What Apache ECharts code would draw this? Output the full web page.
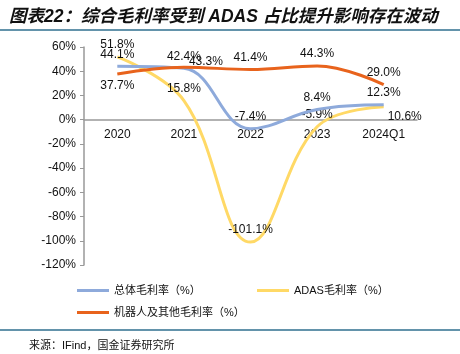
<!DOCTYPE html>
<html>
<head>
<meta charset="utf-8">
<script src="https://cdn.jsdelivr.net/npm/echarts@6/dist/echarts.min.js"></script>
<style>
html,body{margin:0;padding:0;background:#fff;}
#chart{width:460px;height:354px;}
</style>
</head>
<body>
<div id="chart"></div>
<script>
// 数据
var categories = ['2020', '2021', '2022', '2023', '2024Q1'];
var totalMargin = [44.1, 42.4, -7.4, 8.4, 12.3];
var adasMargin = [51.8, 15.8, -101.1, -5.9, 10.6];
var robotMargin = [37.7, 43.3, 41.4, 44.3, 29.0];
var seriesNames = ['总体毛利率（%）', 'ADAS毛利率（%）', '机器人及其他毛利率（%）'];

var chart = echarts.init(document.getElementById('chart'));

function pct(p) { return p.value.toFixed(1) + '%'; }

var labelStyle = {
	show: true,
	position: 'top',
	distance: 6,
	color: '#111',
	fontSize: 12,
	fontFamily: 'Liberation Sans, Arial, sans-serif',
	formatter: pct
};

var option = {
	animation: false,
	title: [{
		text: '图表22：综合毛利率受到 ADAS 占比提升影响存在波动',
		left: 4,
		top: 3,
		textStyle: {
			fontSize: 17.5,
			fontWeight: 'bold',
			fontStyle: 'italic',
			color: '#111',
			fontFamily: 'Liberation Sans, Noto Sans CJK SC, sans-serif'
		}
	}, {
		text: '来源：IFind，国金证券研究所',
		left: 24,
		top: 335,
		textStyle: {
			fontSize: 11,
			fontWeight: 'normal',
			color: '#111',
			fontFamily: 'Liberation Sans, Noto Sans CJK SC, sans-serif'
		}
	}],
	graphic: [
		{type: 'line', shape: {x1: 0, y1: 30, x2: 460, y2: 30}, style: {stroke: '#2f6f8f', lineWidth: 1.5}},
		{type: 'line', shape: {x1: 0, y1: 330, x2: 460, y2: 330}, style: {stroke: '#2f6f8f', lineWidth: 1.5}}
	],
	legend: [{
		data: [seriesNames[0]], left: 72, top: 280
	}, {
		data: [seriesNames[1]], left: 252, top: 280
	}, {
		data: [seriesNames[2]], left: 72, top: 302
	}].map(function (l) {
		l.itemWidth = 32;
		l.itemHeight = 3;
		l.itemGap = 4;
		l.icon = 'rect';
		l.textStyle = {fontSize: 11, color: '#111', fontFamily: 'Liberation Sans, Noto Sans CJK SC, sans-serif'};
		return l;
	}),
	grid: {left: 84, right: 43, top: 47, bottom: 89},
	xAxis: {
		type: 'category',
		data: categories,
		offset: -145.3,
		axisLine: {onZero: false, lineStyle: {color: '#999', width: 1.5}},
		axisTick: {show: false},
		axisLabel: {color: '#111', fontSize: 12, margin: 9, fontFamily: 'Liberation Sans, Arial, sans-serif'}
	},
	yAxis: {
		type: 'value',
		min: -120,
		max: 60,
		interval: 20,
		axisLine: {show: true, lineStyle: {color: '#999', width: 1.5}},
		axisTick: {show: true, length: 4, lineStyle: {color: '#999'}},
		splitLine: {show: false},
		axisLabel: {color: '#111', fontSize: 12, margin: 8, formatter: '{value}%', fontFamily: 'Liberation Sans, Arial, sans-serif'}
	},
	series: [{
		name: seriesNames[0],
		type: 'line',
		data: totalMargin,
		smooth: 0.4,
		symbol: 'circle',
		symbolSize: 0,
		showSymbol: true,
		z: 3,
		lineStyle: {color: '#8eaadb', width: 3},
		itemStyle: {color: '#8eaadb'},
		label: labelStyle
	}, {
		name: seriesNames[1],
		type: 'line',
		data: adasMargin.map(function (v, i) {
			if (i === 4) return {value: v, label: {position: 'right', offset: [-2, 10]}};
			return v;
		}),
		smooth: 0.4,
		symbol: 'circle',
		symbolSize: 0,
		showSymbol: true,
		z: 2,
		lineStyle: {color: '#ffd966', width: 3},
		itemStyle: {color: '#ffd966'},
		label: labelStyle
	}, {
		name: seriesNames[2],
		type: 'line',
		data: robotMargin.map(function (v, i) {
			if (i === 0) return {value: v, label: {position: 'bottom'}};
			if (i === 1) return {value: v, label: {offset: [22, 6]}};
			return v;
		}),
		smooth: 0.4,
		symbol: 'circle',
		symbolSize: 0,
		showSymbol: true,
		z: 4,
		lineStyle: {color: '#e8631c', width: 3},
		itemStyle: {color: '#e8631c'},
		label: labelStyle
	}]
};

chart.setOption(option);
</script>
</body>
</html>
